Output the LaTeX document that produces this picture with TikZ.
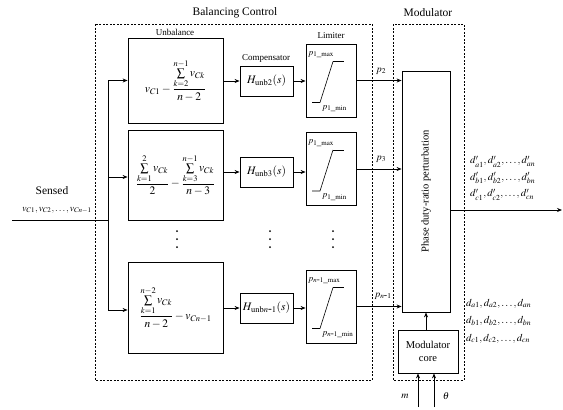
\documentclass[tikz,border=0pt]{standalone}
\usepackage{mathptmx}
\usepackage{fontspec}
\setmainfont{Liberation Serif}
\usetikzlibrary{arrows.meta,calc}
\newcommand\limsym[3]{%
 \draw[line width=0.6pt] ($(#1.center)+(2,-19)$) -- ++(11,0);
 \draw[line width=0.6pt] ($(#1.center)+(2,-19)$) -- ($(#1.center)+(-11,22)$) -- ++(-8,0);
 \node[anchor=west,inner sep=0,font=\fontsize{9}{10}\selectfont] at ($(#1.center)+(-23,-26)$) {$#2$};
 \node[anchor=west,inner sep=0,font=\fontsize{9}{10}\selectfont] at ($(#1.center)+(-9,28)$) {$#3$};
}
\newcommand\hy{\mbox{-}}
\begin{document}
\begin{tikzpicture}[x=1pt,y=-1pt,
  blk/.style={draw,line width=0.8pt,inner sep=1pt},
  arr/.style={-{Stealth[length=5pt,width=4pt]},line width=0.8pt},
  dbox/.style={draw,line width=0.6pt,dash pattern=on 2pt off 1.5pt},
  ttl/.style={font=\fontsize{11.5}{13}\selectfont},
  lbl/.style={font=\fontsize{9}{10}\selectfont,inner sep=0},
  mth/.style={font=\fontsize{11.5}{13}\selectfont}]
\useasboundingbox (0,0) rectangle (563,410);
% dashed frames
\draw[dbox] (95,24) rectangle (372,380);
\draw[dbox] (393,24) rectangle (464,380);
\node[ttl] (tbc) at (235,13) {Balancing Control};
\node[ttl] (tmod) at (428,13) {Modulator};
% unbalance boxes
\node[blk,mth,minimum width=95,minimum height=85] (ub1) at (175.5,80.5)
  {$\displaystyle v_{C1}-\frac{\sum\limits_{k=2}^{n-1} v_{Ck}}{n-2}$};
\node[blk,mth,minimum width=95,minimum height=90] (ub2) at (175.5,175)
  {$\displaystyle \frac{\sum\limits_{k=1}^{2} v_{Ck}}{2}-\frac{\sum\limits_{k=3}^{n-1} v_{Ck}}{n-3}$};
\node[blk,mth,minimum width=95,minimum height=91] (ub3) at (175.5,307.5)
  {$\displaystyle \frac{\sum\limits_{k=1}^{n-2} v_{Ck}}{n-2}-v_{Cn-1}$};
\node[lbl] (tub) at (175,32) {Unbalance};
% compensators
\node[blk,mth,minimum width=53,minimum height=30] (c1) at (266.5,81) {$H_{\mathrm{unb}2}(s)$};
\node[blk,mth,minimum width=53,minimum height=30] (c2) at (266.5,172) {$H_{\mathrm{unb}3}(s)$};
\node[blk,mth,minimum width=53,minimum height=30] (c3) at (266.5,308) {$H_{\mathrm{unb}n\hy 1}(s)$};
\node[lbl] (tcomp) at (266,58) {Compensator};
% limiters
\node[blk,minimum width=50,minimum height=73] (l1) at (331,80.5) {};
\node[blk,minimum width=50,minimum height=73] (l2) at (331,169) {};
\node[blk,minimum width=50,minimum height=73] (l3) at (331,306.5) {};
\node[lbl] (tlim) at (331,36) {Limiter};
\limsym{l1}{p_{1\_\mathrm{max}}}{p_{1\_\mathrm{min}}}
\limsym{l2}{p_{1\_\mathrm{max}}}{p_{1\_\mathrm{min}}}
\limsym{l3}{p_{n\hy 1\_\mathrm{max}}}{p_{n\hy 1\_\mathrm{min}}}
% phase box and modulator core
\node[blk,minimum width=48,minimum height=241] (ph) at (426,191.5) {};
\node[rotate=90,font=\fontsize{10.5}{12}\selectfont] (tph) at (ph.center) {Phase duty-ratio perturbation};
\node[blk,minimum width=60,minimum height=43,align=center,font=\fontsize{10.5}{12.5}\selectfont] (core) at (428,351.5) {Modulator\\core};
% connections
\foreach \i in {1,2,3}{
  \draw[arr] (ub\i.east |- c\i.west) -- (c\i.west);
  \draw[arr] (c\i.east) -- (l\i.west |- c\i.east);
  \draw[arr] (l\i.east) -- (ph.west |- l\i.east);
}
\node[lbl,font=\fontsize{10}{11}\selectfont] (p2) at (381,71) {$p_2$};
\node[lbl,font=\fontsize{10}{11}\selectfont] (p3) at (381,159) {$p_3$};
\node[lbl,font=\fontsize{10}{11}\selectfont] (pn) at (383,296) {$p_{n\hy 1}$};
\draw[arr] (core.north -| ph.south) -- (ph.south);
\coordinate (out) at (562,210);
\draw[arr] (ph.east |- out) -- (out);
\node[lbl,anchor=west,align=left,font=\fontsize{10.5}{16.5}\selectfont] (dp) at (470,178)
  {$d'_{a1}, d'_{a2},\ldots, d'_{an}$\\ $d'_{b1}, d'_{b2},\ldots, d'_{bn}$\\ $d'_{c1}, d'_{c2},\ldots, d'_{cn}$};
\node[lbl,anchor=west,align=left,font=\fontsize{10.5}{17.5}\selectfont] (dd) at (466,321)
  {$d_{a1}, d_{a2},\ldots, d_{an}$\\ $d_{b1}, d_{b2},\ldots, d_{bn}$\\ $d_{c1}, d_{c2},\ldots, d_{cn}$};
% inputs m, theta
\coordinate (m0) at (418,407);
\coordinate (t0) at (434,407);
\draw[arr] (m0) -- (m0 |- core.south);
\draw[arr] (t0) -- (t0 |- core.south);
\node[lbl,font=\fontsize{10}{11}\selectfont] (lm) at (405,396) {$m$};
\node[lbl,font=\fontsize{10}{11}\selectfont] (lt) at (446,396) {$\theta$};
% sensed input and bus
\coordinate (s0) at (12,220);
\coordinate (bj) at (108,220);
\coordinate (b1) at (108,80.5);
\coordinate (b2) at (108,177);
\coordinate (b3) at (108,310);
\draw[line width=0.8pt] (s0) -- (bj);
\draw[line width=0.8pt] (b1) -- (b3);
\draw[arr] (b1) -- (ub1.west |- b1);
\draw[arr] (b2) -- (ub2.west |- b2);
\draw[arr] (b3) -- (ub3.west |- b3);
\node[ttl] (tsen) at (52,191) {Sensed};
\node[lbl,font=\fontsize{9.5}{10}\selectfont] (tv) at (57,210) {$v_{C1}, v_{C2},\ldots, v_{Cn-1}$};
% vertical dots
\foreach \x in {177,270,333}{
  \foreach \y in {231,239,247}{ \fill (\x,\y) circle (1); }
}
\end{tikzpicture}
\end{document}
